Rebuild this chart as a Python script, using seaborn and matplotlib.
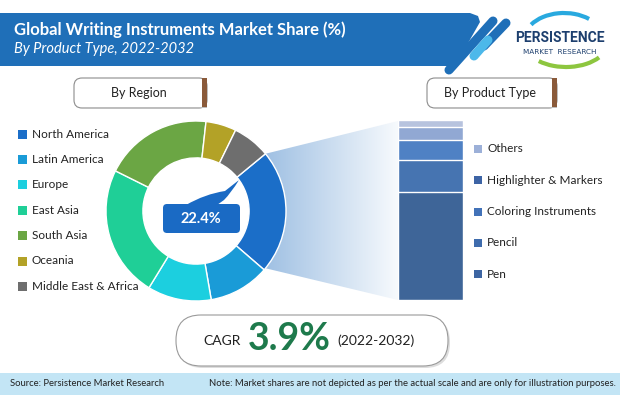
import numpy as np
import matplotlib
matplotlib.use("Agg")
import matplotlib.pyplot as plt
import seaborn as sns
from matplotlib.patches import FancyBboxPatch, Polygon, Rectangle, Arc, PathPatch
from matplotlib.path import Path

# -----------------------------
# Data
# -----------------------------
regions = ["North America", "Latin America", "Europe", "East Asia",
           "South Asia", "Oceania", "Middle East & Africa"]
region_share = [22.4, 11.0, 11.5, 23.7, 19.5, 5.5, 6.8]
region_colors = ["#1b6ec8", "#1a9bd7", "#1ccfdf", "#1fcf97",
                 "#6ba644", "#b3a227", "#6e6e6e"]

# stacked bar, bottom to top
products = ["Pen", "Pencil", "Coloring Instruments", "Highlighter & Markers", "Others"]
product_share = [60.0, 17.8, 11.1, 7.2, 3.9]
product_colors = ["#3e6598", "#4674b1", "#4f81c4", "#91a8d3", "#b7c3de"]
legend_colors = ["#3d65a2", "#3f6cad", "#4272b8", "#3d64a5", "#9cb0d8"]

highlight_value = "22.4%"
cagr_value = "3.9%"
cagr_period = "(2022-2032)"

W, H = 620, 395

sns.set_theme(style="white")
plt.rcParams["font.family"] = ["Lato", "DejaVu Sans"]

fig = plt.figure(figsize=(W / 100, H / 100), dpi=100)
fig.patch.set_facecolor("white")


def px_axes(x0, y0, w, h):
    # axes placed by pixel box (top-left origin)
    return fig.add_axes([x0 / W, (H - y0 - h) / H, w / W, h / H])


bg = px_axes(0, 0, W, H)
bg.set_xlim(0, W)
bg.set_ylim(H, 0)
bg.axis("off")

# -----------------------------
# Title banner
# -----------------------------
banner = Polygon([(0, 13), (470, 13), (478, 16), (480, 22), (455, 66), (0, 66)],
                 closed=True, fc="#1f6fb8", ec="none")
bg.add_patch(banner)
bg.plot([493, 449], [21, 70], color="#1f6fb8", lw=6.5, solid_capstyle="round")
bg.plot([506, 484], [23, 46], color="#1f6fb8", lw=6.5, solid_capstyle="round")
bg.plot([488, 474], [40, 56], color="#4cb8ea", lw=6.5, solid_capstyle="round")

bg.text(14, 30, "Global Writing Instruments Market Share (%)", color="white",
        fontsize=12, fontweight="bold", va="center", ha="left")
bg.text(14, 49, "By Product Type, 2022-2032", color="white",
        fontsize=10.5, fontstyle="italic", va="center", ha="left")

# logo
bg.add_patch(Arc((566, 42), 84, 50, theta1=25, theta2=145, color="#8dc63f", lw=3))
bg.add_patch(Arc((564, 40), 80, 54, theta1=205, theta2=320, color="#29a9df", lw=3))
bg.text(560, 38, "PERSISTENCE", color="#1d3f6e", fontsize=10, fontweight="bold",
        ha="center", va="center", family=["Roboto", "DejaVu Sans"])
bg.text(560, 52, "MARKET  RESEARCH", color="#1d3f6e", fontsize=5.2,
        ha="center", va="center", family=["DejaVu Sans"])


# -----------------------------
# Section tabs
# -----------------------------
def tab(x0, x1, label):
    bg.add_patch(FancyBboxPatch((x0, 78), x1 - x0, 30,
                                boxstyle="round,pad=0,rounding_size=8",
                                fc="white", ec="#8c8c8c", lw=0.8))
    bg.add_patch(Rectangle((x1 - 5, 78), 5, 30, fc="#8a5a3a", ec="none"))
    bg.add_patch(Rectangle((x0 + 8, 106.5), x1 - x0 - 8, 1.5, fc="#bdbdbd", ec="none"))
    bg.text((x0 + x1) / 2 - 2, 93, label, fontsize=9, color="#222222",
            ha="center", va="center")


tab(74, 207, "By Region")
tab(427, 557, "By Product Type")

# -----------------------------
# Gradient wedge from donut to bar
# -----------------------------
cx, cy, R = 196, 211, 90
ang = np.deg2rad(39.5)
wedge_pts = [(cx + R * np.cos(ang), cy - R * np.sin(ang)), (398, 121),
             (398, 300), (cx + R * np.cos(ang), cy + R * np.sin(ang))]
wedge = Polygon(wedge_pts, closed=True, fc="none", ec="none")
bg.add_patch(wedge)
grad = np.linspace(0, 1, 256).reshape(1, -1)
cmap = matplotlib.colors.LinearSegmentedColormap.from_list("g", ["#9fc0e3", "#f7fafd"])
im = bg.imshow(grad, cmap=cmap, extent=[wedge_pts[0][0], 398, 300, 121],
               aspect="auto", zorder=1)
im.set_clip_path(wedge)
bg.set_xlim(0, W)
bg.set_ylim(H, 0)

# -----------------------------
# Donut
# -----------------------------
ax_d = px_axes(cx - R, cy - R, 2 * R, 2 * R)
ax_d.pie(region_share, colors=region_colors, startangle=39.5, counterclock=False,
         radius=1, wedgeprops=dict(width=0.41, edgecolor="white", linewidth=1))
ax_d.set_xlim(-1, 1)
ax_d.set_ylim(-1, 1)
ax_d.axis("off")

# callout inside donut
bg.add_patch(FancyBboxPatch((163, 204), 77, 29, boxstyle="round,pad=0,rounding_size=4",
                            fc="#1a6ac4", ec="none", zorder=5))
verts = [(186, 205), (205, 194), (225, 191), (239, 180), (231, 193), (224, 200), (217, 205), (186, 205)]
codes = [Path.MOVETO, Path.CURVE3, Path.CURVE3, Path.LINETO, Path.CURVE3, Path.CURVE3,
         Path.LINETO, Path.CLOSEPOLY]
bg.add_patch(PathPatch(Path(verts, codes), fc="#1a6ac4", ec="none", zorder=5))
bg.text(201, 219, highlight_value, color="white", fontsize=10.5, fontweight="bold",
        ha="center", va="center", zorder=6)

# region legend
for i, (name, col) in enumerate(zip(regions, region_colors)):
    y = 134 + i * 25.4
    bg.add_patch(Rectangle((18, y - 4.5), 9, 9, fc=col, ec="none"))
    bg.text(32, y, name, fontsize=8.5, color="#222222", va="center", ha="left")

# -----------------------------
# Stacked bar (seaborn, cumulative overlay)
# -----------------------------
ax_b = px_axes(398, 120, 65, 180)
cum = np.cumsum(product_share)
for total, col in zip(cum[::-1], product_colors[::-1]):
    sns.barplot(x=[0], y=[total], color=col, width=1, saturation=1, ax=ax_b)
ax_b.set_xlim(-0.5, 0.5)
ax_b.set_ylim(0, cum[-1])
ax_b.axis("off")

for i, (name, col) in enumerate(zip(products[::-1], legend_colors[::-1])):
    y = 149 + i * 31.3
    bg.add_patch(Rectangle((474, y - 4), 8, 8, fc=col, ec="none"))
    bg.text(487, y, name, fontsize=8.5, color="#222222", va="center", ha="left")

# -----------------------------
# CAGR pill
# -----------------------------
bg.add_patch(FancyBboxPatch((178, 317), 272, 51, boxstyle="round,pad=0,rounding_size=25",
                            fc="#dddddd", ec="none", zorder=1))
bg.add_patch(FancyBboxPatch((176, 315), 272, 51, boxstyle="round,pad=0,rounding_size=25",
                            fc="white", ec="#9a9a9a", lw=0.8, zorder=2))
bg.text(241, 341, "CAGR", fontsize=10, color="#222222", ha="right", va="center", zorder=3)
bg.text(289, 339, cagr_value, fontsize=27, fontweight="bold", color="#1e7a4c",
        ha="center", va="center", zorder=3)
bg.text(337, 341, cagr_period, fontsize=10, color="#222222", ha="left", va="center", zorder=3)

# -----------------------------
# Footer
# -----------------------------
bg.add_patch(Rectangle((0, 373), W, 22, fc="#c3e5f5", ec="none"))
bg.text(10, 384, "Source: Persistence Market Research", fontsize=6.8, color="#222222",
        va="center", ha="left")
bg.text(616, 384, "Note: Market shares are not depicted as per the actual scale and are only for illustration purposes.",
        fontsize=6.8, color="#222222", va="center", ha="right")

fig.savefig("out.png", dpi=100)
